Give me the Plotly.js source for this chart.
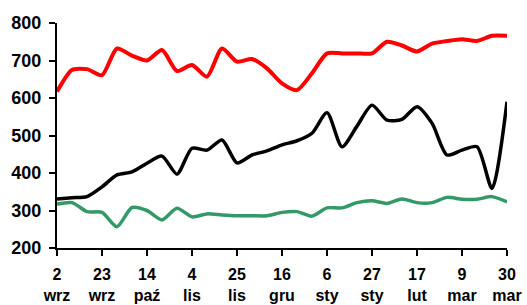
<!DOCTYPE html>
<html>
<head>
<meta charset="utf-8">
<script src="https://cdn.plot.ly/plotly-3.0.1.min.js"></script>
<style>html,body{margin:0;padding:0;background:#fff;}#chart{width:527px;height:305px;}</style>
</head>
<body>
<div id="chart"></div>
<script>
const weeks = ["2 wrz","9 wrz","16 wrz","23 wrz","30 wrz","7 paź","14 paź","21 paź","28 paź","4 lis","11 lis","18 lis","25 lis","2 gru","9 gru","16 gru","23 gru","30 gru","6 sty","13 sty","20 sty","27 sty","3 lut","10 lut","17 lut","24 lut","2 mar","9 mar","16 mar","23 mar","30 mar"];
const redSeries = [617,675,677,661,732,713,700,728,672,688,657,732,697,704,679,639,621,666,719,719,719,719,750,740,724,745,752,757,752,766,766];
const blackSeries = [331,334,337,363,395,403,426,445,397,466,461,488,427,448,459,475,486,506,561,470,525,581,541,543,577,533,448,461,470,359,590];
const greenSeries = [317,321,297,295,257,308,300,275,306,283,291,288,286,286,286,295,297,285,307,307,321,326,319,331,321,321,335,330,330,337,323];
const tickCats = ["2 wrz","23 wrz","14 paź","4 lis","25 lis","16 gru","6 sty","27 sty","17 lut","9 mar","30 mar"];
const tickLabels = ["2<br>wrz","23<br>wrz","14<br>paź","4<br>lis","25<br>lis","16<br>gru","6<br>sty","27<br>sty","17<br>lut","9<br>mar","30<br>mar"];

const font = {family: "Liberation Sans, Arial, sans-serif", size: 16, color: "#000"};
const mk = (y, color, w) => ({x: weeks, y: y, type: "scatter", mode: "lines",
  line: {color: color, width: w, shape: "spline", smoothing: 0.7}, hoverinfo: "skip"});

Plotly.newPlot("chart", [
  mk(redSeries, "#ff0000", 4),
  mk(blackSeries, "#000000", 3.5),
  mk(greenSeries, "#339966", 3.5)
], {
  width: 527, height: 305,
  margin: {l: 57, r: 20, t: 23, b: 57},
  showlegend: false,
  paper_bgcolor: "#fff", plot_bgcolor: "#fff",
  font: font,
  xaxis: {type: "category", range: [0, 30], showgrid: false, zeroline: false,
    showline: true, linecolor: "#000", linewidth: 2,
    ticks: "outside", ticklen: 6, tickwidth: 2, tickcolor: "#000",
    tickmode: "array", tickvals: tickCats, ticktext: tickLabels, ticklabelstandoff: 5,
    tickfont: {family: font.family, size: 16, color: "#000", weight: "bold"}, tickangle: 0},
  yaxis: {range: [200, 800], dtick: 100, tick0: 200, showgrid: false, zeroline: false,
    showline: true, linecolor: "#000", linewidth: 2,
    ticks: "outside", ticklen: 6, tickwidth: 2, tickcolor: "#000", ticklabelstandoff: 4,
    tickfont: {family: font.family, size: 18, color: "#000", weight: "bold"}}
}, {staticPlot: true, displayModeBar: false});
</script>
</body>
</html>
